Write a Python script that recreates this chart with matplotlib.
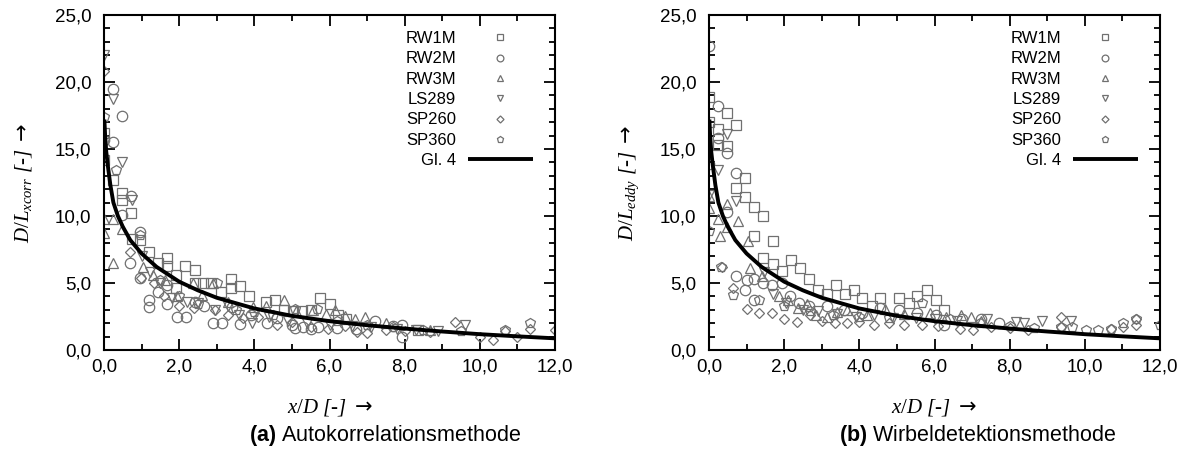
import matplotlib
matplotlib.use("Agg")
from matplotlib import pyplot as plt
from matplotlib.ticker import MultipleLocator, FuncFormatter

# --- panel (a): autocorrelation method ---
A_RW1M_X = [0.0, 0.0, 0.25, 0.47, 0.47, 0.72, 0.74, 0.97, 1.21, 1.45, 1.68, 1.68, 1.92,
            1.92, 2.16, 2.41, 2.41, 2.63, 2.85, 3.12, 3.37, 3.37, 3.61, 3.85, 4.32, 4.54,
            4.80, 5.02, 5.28, 5.50, 5.74, 6.00, 6.23, 6.45, 8.35]
A_RW1M_Y = [16.2, 14.2, 12.7, 11.7, 11.2, 10.2, 8.3, 8.2, 7.3, 6.5, 6.9, 6.3, 5.6,
            4.6, 6.3, 6.0, 5.0, 5.0, 5.0, 4.35, 5.3, 4.65, 4.75, 4.0, 3.6, 3.75,
            3.0, 2.9, 2.9, 3.0, 3.9, 3.4, 2.6, 2.35, 1.5]
A_RW2M_X = [0.0, 0.23, 0.25, 0.47, 0.72, 0.47, 0.96, 0.69, 0.96, 1.20, 1.20, 1.45, 1.67,
            1.68, 1.93, 2.18, 2.41, 2.65, 2.89, 3.13, 3.40, 3.62, 3.90, 4.33, 4.60, 5.00,
            5.08, 5.30, 5.50, 5.70, 6.20, 6.70, 7.20, 7.70, 7.92, 7.92]
A_RW2M_Y = [15.7, 15.5, 19.5, 17.5, 11.5, 10.1, 8.8, 6.5, 5.4, 3.7, 3.2, 4.35, 4.85,
            3.4, 2.5, 2.5, 3.6, 3.3, 2.05, 2.05, 3.2, 1.95, 2.6, 2.05, 2.4, 1.85,
            1.65, 1.7, 1.6, 1.7, 1.65, 1.55, 2.2, 1.8, 1.85, 1.0]
A_RW3M_X = [0.0, 0.0, 0.25, 0.47, 0.25, 1.04, 1.30, 1.62, 1.93, 2.38, 2.60, 2.90, 3.30,
            3.97, 4.30, 4.79, 5.10, 5.57, 5.90, 6.14, 6.41, 6.68, 6.94, 7.50, 8.67]
A_RW3M_Y = [9.75, 8.7, 9.8, 9.0, 6.5, 6.2, 5.6, 5.2, 4.05, 5.0, 4.1, 5.0, 3.6,
            3.2, 3.3, 3.7, 2.9, 3.0, 2.7, 3.0, 2.55, 2.3, 2.45, 2.0, 1.5]
A_LS289_X = [0.0, 0.23, 0.47, 0.74, 1.00, 1.22, 1.50, 1.80, 2.20, 2.50, 2.95, 3.30, 3.60,
             3.93, 4.40, 4.90, 5.40, 6.00, 6.60, 7.10, 7.80, 8.30, 8.90, 9.60]
A_LS289_Y = [22.0, 18.7, 14.05, 11.2, 7.0, 5.85, 5.0, 3.9, 3.6, 3.5, 3.0, 3.3, 2.6,
             2.0, 2.5, 2.2, 2.0, 1.9, 1.8, 1.7, 1.6, 1.5, 1.45, 1.85]
A_SP260_X = [0.0, 0.69, 0.98, 1.33, 1.60, 2.00, 2.40, 2.95, 3.30, 3.70, 4.10, 4.60, 5.00,
             5.50, 5.97, 6.40, 6.72, 7.00, 7.50, 8.00, 8.67, 9.33, 10.00, 10.35, 10.66,
             11.00, 11.33, 12.00]
A_SP260_Y = [20.8, 7.3, 5.4, 5.0, 4.0, 3.3, 3.1, 3.0, 2.6, 2.4, 2.5, 1.9, 2.1,
             1.7, 1.6, 1.8, 1.35, 1.25, 1.5, 1.4, 1.37, 2.1, 0.95, 0.75, 1.4,
             1.0, 1.6, 1.5]
A_SP360_X = [0.0, 0.32, 0.96, 1.50, 2.00, 2.50, 3.00, 3.50, 4.00, 4.50, 5.08, 5.67, 6.20,
             7.00, 7.70, 8.50, 9.50, 10.66, 11.33]
A_SP360_Y = [17.4, 13.4, 8.6, 5.2, 4.0, 3.4, 5.0, 3.0, 2.8, 2.6, 3.05, 3.05, 2.2,
             1.9, 1.75, 1.5, 1.4, 1.5, 2.0]

# --- panel (b): vortex detection method ---
B_RW1M_X = [0.0, 0.0, 0.24, 0.24, 0.48, 0.48, 0.71, 0.71, 0.95, 0.95, 1.20, 1.20, 1.44,
            1.44, 1.69, 1.69, 1.93, 2.17, 2.42, 2.67, 2.91, 3.15, 3.38, 3.62, 3.86, 4.07,
            4.34, 4.56, 5.05, 5.31, 5.54, 5.79, 6.03, 6.25]
B_RW1M_Y = [18.9, 17.0, 16.5, 15.3, 17.7, 15.2, 16.8, 12.1, 12.8, 11.4, 10.7, 8.5, 10.0,
            6.9, 8.1, 6.4, 5.9, 6.7, 6.1, 5.3, 4.5, 4.2, 4.85, 4.2, 4.5, 3.9,
            3.25, 3.85, 3.85, 3.5, 4.0, 4.5, 3.7, 3.0]
B_RW2M_X = [0.0, 0.0, 0.24, 0.24, 0.48, 0.48, 0.71, 0.72, 0.96, 1.00, 1.20, 1.20, 1.45,
            1.67, 1.93, 2.16, 2.40, 2.65, 3.14, 3.60, 4.07, 4.56, 5.05, 5.54, 6.03, 6.25,
            6.74, 7.23, 7.71]
B_RW2M_Y = [22.7, 13.9, 18.2, 15.8, 14.7, 10.3, 13.2, 5.5, 4.5, 5.2, 5.3, 3.7, 5.0,
            4.85, 5.0, 4.0, 3.5, 3.25, 3.25, 3.0, 2.75, 3.1, 3.0, 2.75, 2.6, 1.9,
            2.35, 2.35, 2.05]
B_RW3M_X = [0.0, 0.0, 0.24, 0.48, 0.28, 0.48, 0.77, 1.04, 1.09, 1.40, 1.85, 2.10, 2.36,
            2.60, 2.85, 3.14, 3.40, 3.67, 4.20, 4.69, 5.20, 5.89, 6.30, 6.70, 6.96, 7.23]
B_RW3M_Y = [11.5, 10.6, 9.8, 10.9, 8.5, 9.2, 9.6, 8.1, 6.1, 5.5, 4.0, 3.7, 3.1,
            3.4, 2.6, 2.5, 2.8, 3.0, 2.6, 3.05, 2.7, 2.75, 2.5, 2.6, 2.45, 2.2]
B_LS289_X = [0.0, 0.24, 0.48, 0.73, 1.46, 1.71, 2.05, 2.50, 2.90, 3.40, 3.90, 4.40, 4.90,
             5.50, 6.00, 6.60, 7.40, 8.16, 8.38, 8.87, 9.63]
B_LS289_Y = [11.6, 13.4, 16.1, 11.1, 5.85, 4.2, 3.5, 3.0, 2.9, 2.7, 2.5, 2.6, 2.4,
             2.4, 2.3, 2.2, 2.35, 2.1, 2.0, 2.2, 2.2]
B_SP260_X = [0.34, 0.65, 1.00, 1.33, 1.67, 2.00, 2.33, 2.70, 3.00, 3.35, 3.67, 4.00, 4.40,
             4.80, 5.20, 5.67, 6.10, 6.68, 7.03, 7.50, 8.00, 8.50, 9.36, 9.36, 10.69,
             11.02, 11.36, 11.36]
B_SP260_Y = [6.2, 4.6, 3.05, 2.75, 2.75, 2.35, 2.1, 2.6, 2.2, 2.0, 2.05, 2.1, 1.9,
             2.0, 1.9, 1.9, 1.8, 1.6, 1.5, 1.7, 1.65, 1.5, 2.45, 1.75, 1.6,
             1.75, 2.3, 1.9]
B_SP360_X = [0.0, 0.33, 0.65, 1.32, 2.00, 2.70, 3.30, 4.00, 4.80, 5.67, 6.40, 7.20, 8.00,
             8.65, 9.36, 9.67, 10.03, 10.36, 10.69, 11.02, 11.36, 12.00]
B_SP360_Y = [8.9, 6.2, 4.1, 3.7, 3.3, 2.9, 2.6, 2.5, 2.4, 3.5, 2.3, 2.0, 1.8,
             1.65, 1.7, 1.7, 1.5, 1.5, 1.6, 2.0, 2.3, 1.9]

# Gl. 4
GL4_X = [0.01, 0.03, 0.06, 0.10, 0.17, 0.25, 0.37, 0.50, 0.70, 1.00, 1.40, 2.00, 2.50,
         3.00, 4.00, 5.00, 6.00, 7.00, 8.00, 9.00, 10.00, 11.00, 12.00]
GL4_Y = [17.2, 16.0, 14.8, 13.8, 12.3, 11.0, 10.0, 9.2, 8.2, 7.2, 6.2, 5.1, 4.45,
         3.9, 3.1, 2.55, 2.15, 1.85, 1.6, 1.38, 1.18, 1.02, 0.87]

SERIES = ["RW1M", "RW2M", "RW3M", "LS289", "SP260", "SP360"]
MARKERS = ["s", "o", "^", "v", "D", "p"]
SIZES = [7, 7.5, 7.5, 7.5, 5.5, 7.5]

plt.rcParams["mathtext.fontset"] = "custom"
plt.rcParams["mathtext.it"] = "Liberation Serif:italic"
plt.rcParams["mathtext.rm"] = "Liberation Serif"
plt.rcParams["mathtext.bf"] = "Liberation Sans:bold"
plt.rcParams["mathtext.sf"] = "DejaVu Sans"
SANS = ["Liberation Sans", "DejaVu Sans"]
SERIF = ["Liberation Serif", "DejaVu Serif"]
GREY = "#707070"
ARROW = r"$\mathsf{\rightarrow}$"


def comma(v, pos):
    return ("%.1f" % v).replace(".", ",")


def draw_panel(ax, data):
    for (xs, ys), name, m, s in zip(data, SERIES, MARKERS, SIZES):
        ax.plot(xs, ys, linestyle="none", marker=m, ms=s, mfc="none",
                mec=GREY, mew=0.9, label=name)
    ax.plot(GL4_X, GL4_Y, color="k", lw=2.8, label="Gl. 4", solid_capstyle="butt")

    ax.set_xlim(0, 12)
    ax.set_ylim(0, 25)
    ax.xaxis.set_major_locator(MultipleLocator(2))
    ax.xaxis.set_minor_locator(MultipleLocator(1))
    ax.yaxis.set_major_locator(MultipleLocator(5))
    ax.yaxis.set_minor_locator(MultipleLocator(1))
    ax.xaxis.set_major_formatter(FuncFormatter(comma))
    ax.yaxis.set_major_formatter(FuncFormatter(comma))
    ax.tick_params(which="both", direction="in", top=True, right=True, width=1.3)
    ax.tick_params(which="major", length=8, labelsize=13.5)
    ax.tick_params(which="minor", length=4)
    ax.tick_params(axis="x", pad=6)
    ax.tick_params(axis="y", pad=9)
    for lab in ax.get_xticklabels() + ax.get_yticklabels():
        lab.set_fontfamily(SANS)
    for sp in ax.spines.values():
        sp.set_linewidth(1.5)

    leg = ax.legend(loc="upper right", bbox_to_anchor=(0.951, 0.952),
                    frameon=False, markerfirst=False, handlelength=3.9,
                    handletextpad=0.7, labelspacing=0.32, borderpad=0,
                    borderaxespad=0, markerscale=0.65,
                    prop={"family": SANS, "size": 12})
    for t in leg.get_texts():
        t.set_ha("right")


fig = plt.figure(figsize=(11.87, 4.54), dpi=100)
W, H = 1187.0, 454.0
ax_a = fig.add_axes([104 / W, 1 - 350 / H, 451 / W, 335 / H])
ax_b = fig.add_axes([709 / W, 1 - 350 / H, 451 / W, 335 / H])

draw_panel(ax_a, [(A_RW1M_X, A_RW1M_Y), (A_RW2M_X, A_RW2M_Y), (A_RW3M_X, A_RW3M_Y),
                  (A_LS289_X, A_LS289_Y), (A_SP260_X, A_SP260_Y), (A_SP360_X, A_SP360_Y)])
draw_panel(ax_b, [(B_RW1M_X, B_RW1M_Y), (B_RW2M_X, B_RW2M_Y), (B_RW3M_X, B_RW3M_Y),
                  (B_LS289_X, B_LS289_Y), (B_SP260_X, B_SP260_Y), (B_SP360_X, B_SP360_Y)])

# axis labels
lab_kw = dict(family=SERIF, style="italic", fontsize=15)
fig.text(24 / W, 1 - 183 / H, r"$D/L_{xcorr}$ [-] " + ARROW, rotation=90,
         ha="center", va="center", **lab_kw)
fig.text(629 / W, 1 - 183 / H, r"$D/L_{eddy}$ [-] " + ARROW, rotation=90,
         ha="center", va="center", **lab_kw)
fig.text(330 / W, 1 - 408 / H, r"$x/D$ [-] " + ARROW, ha="center", va="center",
         **lab_kw)
fig.text(934 / W, 1 - 408 / H, r"$x/D$ [-] " + ARROW, ha="center", va="center",
         **lab_kw)

# captions
fig.text(385 / W, 1 - 436 / H, r"$\mathbf{(a)}$ Autokorrelationsmethode", ha="center",
         va="center", family=SANS, fontsize=15.5)
fig.text(978 / W, 1 - 436 / H, r"$\mathbf{(b)}$ Wirbeldetektionsmethode", ha="center",
         va="center", family=SANS, fontsize=15.5)

fig.savefig("out.png", dpi=100)
